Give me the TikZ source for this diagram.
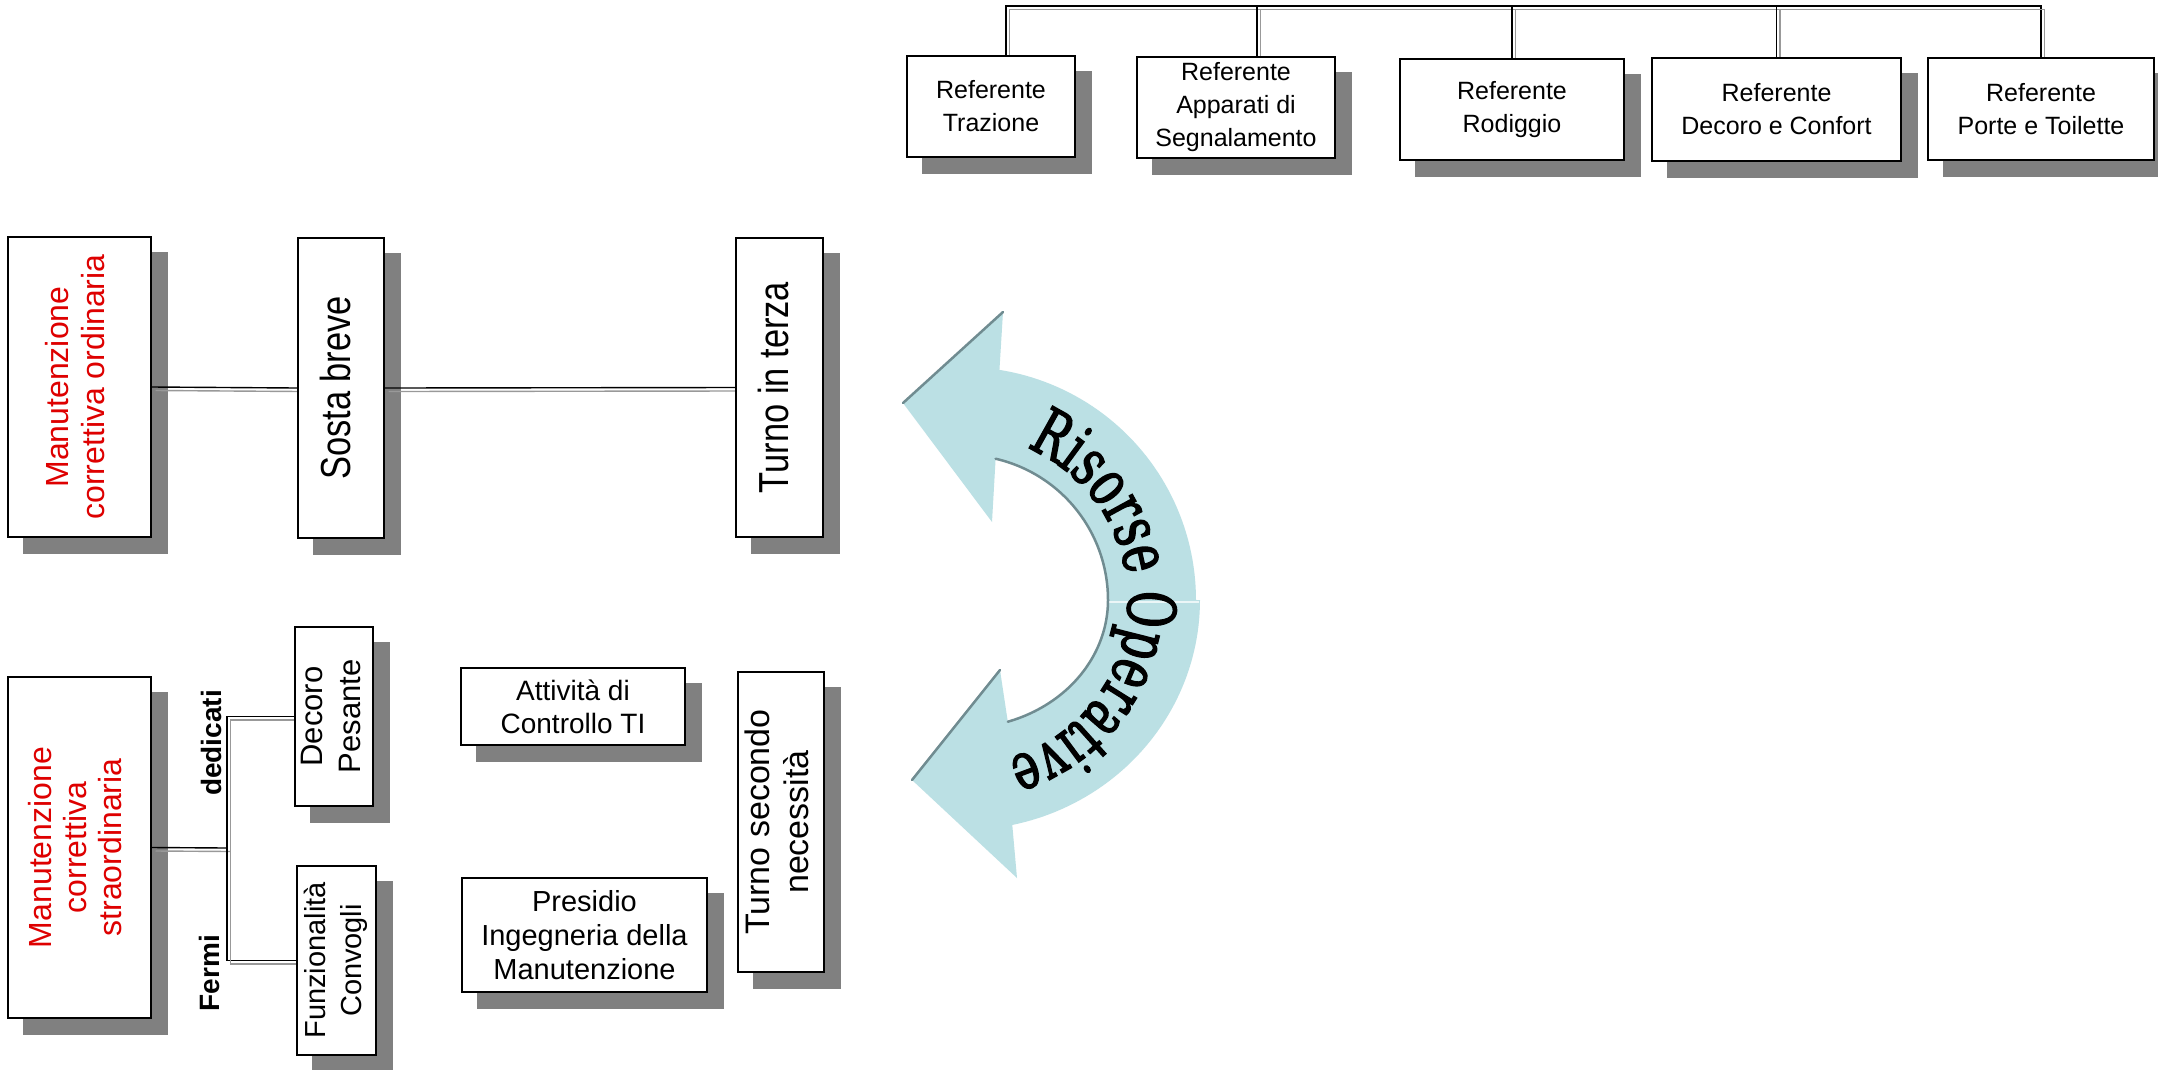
\documentclass[tikz,border=0pt]{standalone}
\usepackage{fontspec}
\setmainfont{Liberation Sans}
\newfontfamily\condsans[FakeStretch=0.82]{Liberation Sans}
\newfontfamily\arcfont[FakeStretch=0.68,FakeBold=2]{DejaVu Serif}
\usetikzlibrary{decorations.text,backgrounds}
\definecolor{mred}{RGB}{222,0,0}
\definecolor{shadowgray}{RGB}{128,128,128}
\definecolor{arrfill}{RGB}{187,224,228}
\definecolor{arredge}{RGB}{112,140,145}
\newcommand\vtext[2]{\rotatebox{90}{#1\begin{tabular}{@{}c@{}}#2\end{tabular}}}
\newcommand\fTop{\fontsize{25}{33}\selectfont}
\newcommand\fRed{\fontsize{32}{35}\selectfont\color{mred}}
\newcommand\fBig{\condsans\fontsize{42}{46}\selectfont}
\newcommand\fDeco{\fontsize{31}{38}\selectfont}
\newcommand\fFunz{\fontsize{29}{36}\selectfont}
\newcommand\fTsn{\fontsize{34}{39}\selectfont}
\newcommand\fAtt{\fontsize{28}{33}\selectfont}
\newcommand\fPres{\fontsize{29}{34}\selectfont}
\newcommand\fLab{\fontsize{28}{28}\selectfont\bfseries}
\newcommand\dconn[1]{\draw[conA] #1; \draw[conB] #1;}
\begin{document}
\begin{tikzpicture}[x=1pt,y=-1pt,
  box/.style={draw=black,line width=2pt,fill=white,inner sep=0pt,align=center},
  shad/.style={fill=shadowgray},
  conA/.style={draw=black,line width=1.4pt},
  conB/.style={draw=gray!80,line width=1.4pt,transform canvas={xshift=3.5pt,yshift=-3.5pt}},
  arrowbody/.style={fill=arrfill},
  arrowline/.style={draw=arredge,line width=2.5pt,line cap=round},
  lab/.style={rotate=90,font=\fLab,inner sep=0pt}
]
\useasboundingbox (0,0) rectangle (2158,1069);

% top row
\node[box,minimum width=168pt,minimum height=101pt,font=\fTop] (b1) at (991,106.5) {Referente\\Trazione};
\node[box,minimum width=198pt,minimum height=101pt,font=\fTop] (b2) at (1236,107) {Referente\\Apparati di\\Segnalamento};
\node[box,minimum width=224pt,minimum height=101pt,font=\fTop] (b3) at (1512,109.5) {Referente\\Rodiggio};
\node[box,minimum width=249pt,minimum height=103pt,font=\fTop] (b4) at (1776.5,109.5) {Referente\\Decoro e Confort};
\node[box,minimum width=226pt,minimum height=102pt,font=\fTop] (b5) at (2041,109) {Referente\\Porte e Toilette};

% upper left row
\node[box,minimum width=143pt,minimum height=300pt] (mco) at (79.5,387) {\vtext{\fRed}{Manutenzione\\correttiva ordinaria}};
\node[box,minimum width=86pt,minimum height=300pt] (sosta) at (341,388) {\vtext{\fBig}{Sosta breve}};
\node[box,minimum width=87pt,minimum height=299pt] (tit) at (779.5,387.5) {\vtext{\fBig}{Turno in terza}};

% lower left group
\node[box,minimum width=143pt,minimum height=341pt] (mcs) at (79.5,847.5) {\vtext{\fRed}{Manutenzione\\correttiva\\straordinaria}};
\node[box,minimum width=78pt,minimum height=179pt] (deco) at (334,716.5) {\vtext{\fDeco}{Decoro\\Pesante}};
\node[box,minimum width=79pt,minimum height=189pt] (funz) at (336.5,960.5) {\vtext{\fFunz}{Funzionalità\\Convogli}};
\node[box,minimum width=224pt,minimum height=77pt,font=\fAtt] (att) at (573,706.5) {Attività di\\Controllo TI};
\node[box,minimum width=245pt,minimum height=114pt,font=\fPres] (pres) at (584.5,935) {Presidio\\Ingegneria della\\Manutenzione};
\node[box,minimum width=86pt,minimum height=300pt] (tsn) at (781,822) {\vtext{\fTsn}{Turno secondo\\necessità}};

\node[lab] (lded) at (211,743) {dedicati};
\node[lab] (lfer) at (209,973) {Fermi};

% background, shadows and connectors behind the boxes
\begin{scope}[on background layer]
  \fill[white] (0,0) rectangle (2158,1069);
  \foreach \n in {b1,b2,b3,b4,b5,mco,sosta,tit,mcs,deco,funz,att,pres,tsn}
    \fill[shad] ([shift={(16,16)}]\n.north west) rectangle ([shift={(16,16)}]\n.south east);
  \coordinate (bar) at (0,6);
  \coordinate (t1) at ([xshift=15pt]b1.north);
  \coordinate (t2) at ([xshift=21pt]b2.north);
  \coordinate (t3) at (b3.north);
  \coordinate (t4) at (b4.north);
  \coordinate (t5) at (b5.north);
  \dconn{(t1) -- (t1 |- bar) -- (t5 |- bar) -- (t5)}
  \dconn{(t2) -- (t2 |- bar)}
  \dconn{(t3) -- (t3 |- bar)}
  \dconn{(t4) -- (t4 |- bar)}
  \dconn{(mco.east) -- (sosta.west)}
  \dconn{(sosta.east) -- (tit.west)}
  \coordinate (jn) at (227,848);
  \dconn{(mcs.east) -- (jn)}
  \dconn{(deco.west) -| (jn)}
  \dconn{(funz.west) -| (jn)}
\end{scope}

% curved double arrow "Risorse Operative"
\fill[arrowbody] (1196,600)
  -- plot[domain=0:81,samples=50] ({963+233*cos(\x)},{600-233*sin(\x)})
  -- (1003,312) -- (903,403) -- (992,522)
  -- plot[domain=77:0,samples=50] ({963+145*cos(\x)},{600-145*sin(\x)})
  -- cycle;
\fill[arrowbody] (1108,600)
  -- plot[domain=0:-72,samples=50] ({963+145*cos(\x)},{600-128*sin(\x)})
  -- (1000,670) -- (912,780) -- (1017,878)
  -- plot[domain=-78:0,samples=50] ({963+237*cos(\x)},{600-230*sin(\x)})
  -- cycle;
\draw[white!70!arrfill,line width=1.5pt] (1108,602) -- (1199,602);
\draw[arrowline] (1003,312) -- (903,403);
\draw[arrowline] (1000,670) -- (912,780);
\draw[arrowline] plot[domain=77:0,samples=50] ({963+145*cos(\x)},{600-145*sin(\x)});
\draw[arrowline] plot[domain=0:-72,samples=50] ({963+145*cos(\x)},{600-128*sin(\x)});
\path[decorate,decoration={text along path,text align=center,
   text={|\arcfont\fontsize{66}{66}\selectfont|Risorse Operative}}]
   plot[domain=76:-83,samples=90] ({963+165*cos(\x)},{600-165*sin(\x)});
\end{tikzpicture}
\end{document}
